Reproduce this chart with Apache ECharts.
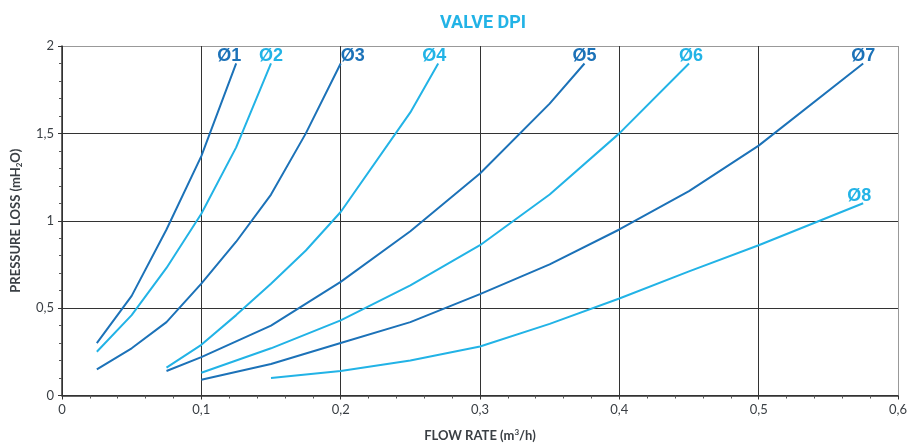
<!DOCTYPE html>
<html>
<head>
<meta charset="utf-8">
<script src="https://cdn.jsdelivr.net/npm/echarts@6/dist/echarts.min.js"></script>
<style>
  html, body { margin: 0; padding: 0; background: #fff; }
  #main { width: 914px; height: 447px; }
</style>
</head>
<body>
<div id="main"></div>
<script>
// valve curves, [flow m3/h, pressure loss mH2O]
const names = ['Ø1', 'Ø2', 'Ø3', 'Ø4', 'Ø5', 'Ø6', 'Ø7', 'Ø8']
const d1 = [[0.025, 0.30], [0.05, 0.57], [0.075, 0.95], [0.1, 1.37], [0.125, 1.9]]
const d2 = [[0.025, 0.25], [0.05, 0.46], [0.075, 0.73], [0.1, 1.04], [0.125, 1.42], [0.15, 1.9]]
const d3 = [[0.025, 0.15], [0.05, 0.27], [0.075, 0.42], [0.1, 0.64], [0.125, 0.88], [0.15, 1.15], [0.175, 1.5], [0.2, 1.9]]
const d4 = [[0.075, 0.16], [0.1, 0.29], [0.125, 0.46], [0.15, 0.64], [0.175, 0.83], [0.2, 1.05], [0.25, 1.62], [0.27, 1.9]]
const d5 = [[0.075, 0.14], [0.1, 0.22], [0.15, 0.40], [0.2, 0.65], [0.25, 0.94], [0.3, 1.27], [0.35, 1.67], [0.375, 1.9]]
const d6 = [[0.1, 0.13], [0.15, 0.27], [0.2, 0.43], [0.25, 0.63], [0.3, 0.86], [0.35, 1.15], [0.4, 1.5], [0.45, 1.9]]
const d7 = [[0.1, 0.09], [0.15, 0.18], [0.2, 0.30], [0.25, 0.42], [0.3, 0.58], [0.35, 0.75], [0.4, 0.95], [0.45, 1.17], [0.5, 1.43], [0.575, 1.9]]
const d8 = [[0.15, 0.10], [0.2, 0.14], [0.25, 0.20], [0.3, 0.28], [0.35, 0.41], [0.4, 0.555], [0.45, 0.71], [0.5, 0.86], [0.575, 1.1]]
const curves = [d1, d2, d3, d4, d5, d6, d7, d8]

const darkBlue = '#1c72b8'
const lightBlue = '#22b3e6'
const labelShift = [-7, 0, 12, -4, 0, 2, 0, -4]

var chartDom = document.getElementById('main')
var myChart = echarts.init(chartDom)

const comma = v => String(v).replace('.', ',')

const series = curves.map((c, i) => {
    let color = i % 2 == 0 ? darkBlue : lightBlue
    return {
        name: names[i],
        type: 'line',
        data: c,
        showSymbol: false,
        symbol: 'none',
        animation: false,
        lineStyle: { color: color, width: 2 },
        itemStyle: { color: color },
        endLabel: {
            show: true,
            formatter: names[i],
            align: 'center',
            verticalAlign: 'bottom',
            distance: 0,
            offset: [labelShift[i], 2],
            color: color,
            fontFamily: 'Liberation Sans',
            fontWeight: 'bold',
            fontSize: 18
        },
        z: 3
    }
})

const option = {
    title: {
        text: 'VALVE DPI',
        left: 478,
        top: 9,
        textAlign: 'center',
        textStyle: {
            color: lightBlue,
            fontFamily: 'Roboto',
            fontWeight: 'bold',
            fontSize: 18
        }
    },
    grid: {
        left: 62,
        right: 16,
        top: 46,
        bottom: 50
    },
    xAxis: {
        type: 'value',
        min: 0,
        max: 0.6,
        interval: 0.1,
        name: 'FLOW RATE (m{sup|3}/h)',
        nameLocation: 'middle',
        nameGap: 33,
        nameTextStyle: {
            color: '#3a3f44',
            fontFamily: 'Lato',
            fontWeight: 'bold',
            fontSize: 13,
            rich: {
                sup: { fontSize: 8, verticalAlign: 'top', color: '#3a3f44', fontFamily: 'Lato', fontWeight: 'bold', padding: [0, 0, 6, 0] }
            }
        },
        axisLine: { lineStyle: { color: '#333', width: 1.5 } },
        axisTick: { length: 4, lineStyle: { color: '#333' } },
        minorTick: { show: true, splitNumber: 5, length: 3, lineStyle: { color: '#555' } },
        axisLabel: {
            color: '#3a3f44',
            fontFamily: 'Lato',
            fontSize: 13,
            margin: 8,
            formatter: comma
        },
        splitLine: {
            show: true,
            lineStyle: { color: ['#333', '#333', '#333', '#333', '#333', '#333', '#999'], width: 1 }
        }
    },
    yAxis: {
        type: 'value',
        min: 0,
        max: 2,
        interval: 0.5,
        name: 'PRESSURE LOSS (mH{sub|2}O)',
        nameLocation: 'middle',
        nameRotate: 90,
        nameGap: 39,
        nameTextStyle: {
            color: '#3a3f44',
            fontFamily: 'Lato',
            fontWeight: 'bold',
            fontSize: 13,
            rich: {
                sub: { fontSize: 8, verticalAlign: 'bottom', color: '#3a3f44', fontFamily: 'Lato', fontWeight: 'bold', padding: [6, 0, 0, 0] }
            }
        },
        axisLine: { show: true, lineStyle: { color: '#333', width: 1.5 } },
        axisTick: { show: true, length: 4, lineStyle: { color: '#333' } },
        minorTick: { show: true, splitNumber: 5, length: 3, lineStyle: { color: '#555' } },
        axisLabel: {
            color: '#3a3f44',
            fontFamily: 'Lato',
            fontSize: 13,
            margin: 8,
            formatter: comma
        },
        splitLine: {
            show: true,
            lineStyle: { color: ['#333', '#333', '#333', '#333', '#999'], width: 1 }
        }
    },
    series: series
}

option && myChart.setOption(option)
</script>
</body>
</html>
